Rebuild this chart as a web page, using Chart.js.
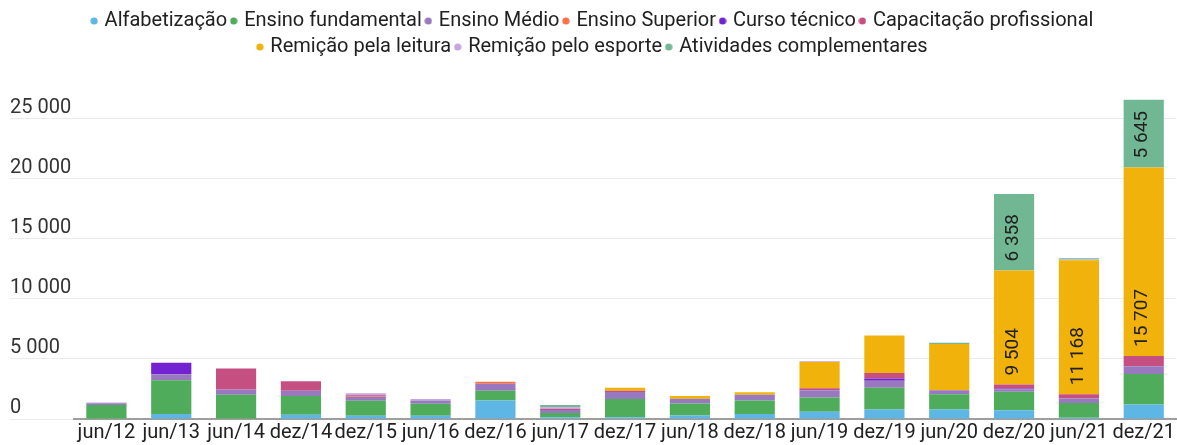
<!DOCTYPE html>
<html>
<head>
<meta charset="utf-8">
<script src="https://cdn.jsdelivr.net/npm/chart.js@4.4.1/dist/chart.umd.min.js"></script>
<style>
  html, body { margin: 0; padding: 0; background: #fff; }
  #wrap { width: 1177px; height: 445px; position: relative; }
</style>
</head>
<body>
<div id="wrap"><canvas id="chart"></canvas></div>
<script>
const periods = ['jun/12', 'jun/13', 'jun/14', 'dez/14', 'dez/15', 'jun/16', 'dez/16', 'jun/17', 'dez/17',
  'jun/18', 'dez/18', 'jun/19', 'dez/19', 'jun/20', 'dez/20', 'jun/21', 'dez/21'];

const alfabetizacao = [0, 415, 0, 360, 280, 275, 1550, 140, 140, 300, 415, 610, 800, 800, 720, 110, 1215];
const fundamental   = [1160, 2820, 2020, 1550, 1250, 1000, 800, 360, 1520, 1000, 1130, 1190, 1800, 1270, 1540, 1215, 2540];
const medio         = [150, 500, 440, 440, 330, 275, 580, 250, 580, 390, 470, 600, 580, 330, 220, 380, 635];
const superior      = [0, 0, 0, 0, 60, 0, 165, 0, 0, 0, 0, 0, 0, 0, 0, 0, 0];
const tecnico       = [0, 940, 0, 0, 0, 0, 0, 0, 0, 0, 0, 0, 190, 0, 60, 0, 0];
const capacitacao   = [0, 0, 1740, 800, 50, 0, 0, 80, 110, 0, 0, 165, 470, 0, 330, 360, 860];
const leitura       = [0, 0, 0, 0, 0, 0, 0, 0, 250, 220, 220, 2185, 3125, 3840, 9504, 11168, 15707];
const esporte       = [60, 0, 0, 0, 170, 110, 0, 150, 0, 0, 0, 60, 0, 0, 0, 60, 0];
const atividades    = [0, 0, 0, 0, 0, 0, 0, 180, 0, 0, 0, 0, 0, 110, 6358, 100, 5645];

const yTicks = [0, 5000, 10000, 15000, 20000, 25000];

// thousands with a plain space, like "15 707"
const fmt = v => String(v).replace(/\B(?=(\d{3})+(?!\d))/g, ' ');

const series = [
  ['Alfabetização', alfabetizacao, '#5DB6E4'],
  ['Ensino fundamental', fundamental, '#4EAC5B'],
  ['Ensino Médio', medio, '#9878BE'],
  ['Ensino Superior', superior, '#FF7043'],
  ['Curso técnico', tecnico, '#7222D0'],
  ['Capacitação profissional', capacitacao, '#C64F82'],
  ['Remição pela leitura', leitura, '#F1B20C'],
  ['Remição pelo esporte', esporte, '#C6A6DD'],
  ['Atividades complementares', atividades, '#72B794']
];

// small round legend marker, drawn once per colour
function dot(color) {
  const c = document.createElement('canvas');
  c.width = 8;
  c.height = 8;
  const g = c.getContext('2d');
  g.fillStyle = color;
  g.beginPath();
  g.arc(4, 4, 3.6, 0, Math.PI * 2);
  g.fill();
  return c;
}

// value labels on the big segments, written bottom-to-top from the segment base
const segmentLabels = {
  id: 'segmentLabels',
  afterDatasetsDraw(chart) {
    const ctx = chart.ctx;
    ctx.save();
    ctx.font = '19px Roboto';
    ctx.fillStyle = '#212121';
    ctx.textAlign = 'left';
    ctx.textBaseline = 'middle';
    chart.data.datasets.forEach((ds, i) => {
      const meta = chart.getDatasetMeta(i);
      meta.data.forEach((bar, j) => {
        const v = ds.data[j];
        if (v < 5000) return;
        ctx.save();
        ctx.translate(bar.x - 1, bar.base - 9);
        ctx.rotate(-Math.PI / 2);
        ctx.fillText(fmt(v), 0, 0);
        ctx.restore();
      });
    });
    ctx.restore();
  }
};

new Chart(document.getElementById('chart'), {
  type: 'bar',
  data: {
    labels: periods,
    datasets: series.map(([label, data, color]) => ({
      label,
      data,
      backgroundColor: color,
      borderWidth: 0,
      categoryPercentage: 1,
      barPercentage: 0.62
    }))
  },
  options: {
    responsive: true,
    maintainAspectRatio: false,
    animation: false,
    layout: { padding: { top: 5, left: 10, right: 0, bottom: -2 } },
    plugins: {
      tooltip: { enabled: false },
      legend: {
        position: 'top',
        align: 'center',
        labels: {
          usePointStyle: true,
          boxWidth: 1,
          boxHeight: 8,
          padding: 6,
          color: '#212121',
          font: { family: 'Roboto', size: 20 },
          generateLabels(chart) {
            return chart.data.datasets.map((ds, i) => ({
              text: ds.label,
              fontColor: '#212121',
              pointStyle: dot(ds.backgroundColor),
              hidden: !chart.isDatasetVisible(i),
              datasetIndex: i
            }));
          }
        }
      }
    },
    scales: {
      x: {
        stacked: true,
        grid: { display: false, drawTicks: false },
        border: { color: '#9e9e9e', width: 2 },
        ticks: {
          autoSkip: false,
          maxRotation: 0,
          padding: 2,
          color: '#212121',
          font: { family: 'Roboto', size: 20 }
        }
      },
      y: {
        stacked: true,
        min: 0,
        max: 29320,
        border: { display: false },
        grid: { color: '#ebebeb', lineWidth: 1, drawTicks: true, tickLength: 64 },
        afterBuildTicks(scale) {
          scale.ticks = yTicks.map(value => ({ value }));
        },
        afterFit(scale) {
          scale.width = 64;
        },
        ticks: {
          crossAlign: 'far',
          padding: 0,
          labelOffset: -11,
          color: '#333',
          font: { family: 'Roboto', size: 20 },
          callback: v => fmt(v)
        }
      }
    }
  },
  plugins: [segmentLabels]
});
</script>
</body>
</html>
